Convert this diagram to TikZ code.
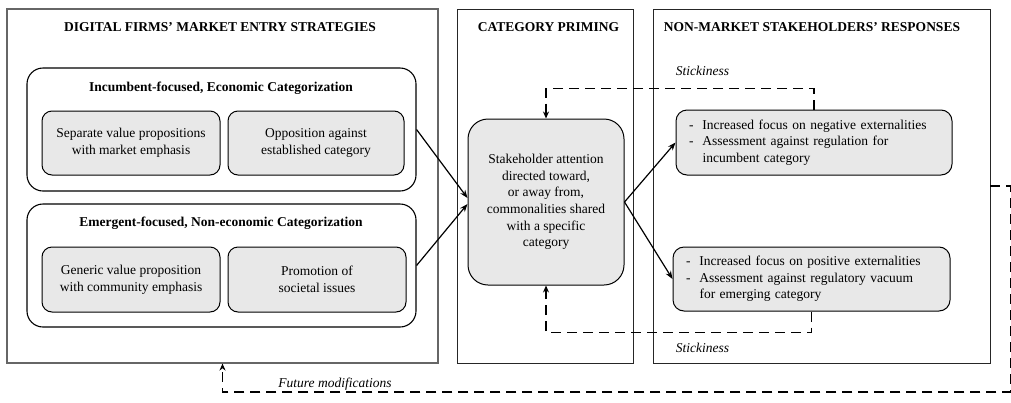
\documentclass[tikz,border=0pt]{standalone}
\usepackage{fontspec}
\setmainfont{Liberation Serif}
\usetikzlibrary{arrows.meta}
\definecolor{boxfill}{RGB}{232,232,232}
\newcommand{\basefont}{\fontsize{13.5}{16.6}\selectfont\rmfamily}
\begin{document}
\begin{tikzpicture}[x=1pt,y=-1pt,
  every node/.style={font=\basefont, inner sep=0pt},
  panel/.style={draw=black!85, line width=0.9pt, minimum width=#1, minimum height=354pt},
  group/.style={draw=black, line width=1.1pt, rounded corners=16pt, minimum width=389pt, minimum height=123pt},
  inner/.style={draw=black, line width=1pt, fill=boxfill, rounded corners=10pt, minimum width=#1, minimum height=64pt, align=center},
  resp/.style={draw=black, line width=1pt, fill=boxfill, rounded corners=11pt, minimum width=#1, minimum height=64pt, text width=#1-26pt, inner xsep=13pt, align=left},
  title/.style={font=\basefont\bfseries},
  note/.style={font=\basefont\itshape},
  solidarrow/.style={line width=1.2pt, -{Stealth[length=8pt,width=6pt]}},
  dashline/.style={line width=1.6pt, dash pattern=on 10pt off 6pt, -{Stealth[length=7pt,width=6pt]}}
]
\useasboundingbox (0,0) rectangle (1011,402);

% panels
\node[panel=431pt, draw=black!60, line width=1.1pt] (p1) at (222.5,186) {};
\node[panel=176pt] (p2) at (545,186) {};
\node[panel=337pt] (p3) at (821.5,186) {};

\node[title] (t1) at (220,27) {DIGITAL FIRMS’ MARKET ENTRY STRATEGIES};
\node[title] (t2) at (548.5,27) {CATEGORY PRIMING};
\node[title] (t3) at (812,27) {NON-MARKET STAKEHOLDERS’ RESPONSES};

% groups
\node[group] (g1) at (221.5,129.5) {};
\node[title] (g1t) at (221,88) {Incumbent-focused, Economic Categorization};
\node[inner=178pt] (a) at (131,143) {Separate value propositions\\with market emphasis};
\node[inner=176pt] (b) at (316,143) {Opposition against\\established category};

\node[group] (g2) at (221.5,265.5) {};
\node[title] (g2t) at (221,223) {Emergent-focused, Non-economic Categorization};
\node[inner=178pt, minimum height=65pt] (cc) at (131,279.5) {Generic value proposition\\with community emphasis};
\node[inner=178pt, minimum height=65pt] (d) at (317,279.5) {Promotion of\\societal issues};

% central
\node[draw=black, line width=1pt, fill=boxfill, rounded corners=20pt, minimum width=156pt, minimum height=166pt, align=center] (c) at (546,202)
  {Stakeholder attention\\directed toward,\\or away from,\\commonalities shared\\with a specific\\category};

% responses
\node[resp=276pt, minimum height=65pt] (r1) at (814,142.5)
  {\begin{tabular}{@{}l@{\hspace{9pt}}l@{}}-&Increased focus on negative externalities\\-&Assessment against regulation for\\&incumbent category\end{tabular}};
\node[resp=277pt] (r2) at (811.5,279)
  {\begin{tabular}{@{}l@{\hspace{9pt}}l@{}}-&Increased focus on positive externalities\\-&Assessment against regulatory vacuum\\&for emerging category\end{tabular}};

\node[note] (s1) at (702.5,71) {Stickiness};
\node[note] (s2) at (702.5,348) {Stickiness};
\node[note] (fm) at (335,384) {Future modifications};

% solid arrows
\draw[solidarrow] (g1.east) -- ([yshift=4pt]c.west);
\draw[solidarrow] (g2.east) -- ([yshift=-2pt]c.west);
\draw[solidarrow] (c.east) -- (r1.west);
\draw[solidarrow] (c.east) -- (r2.west);

% dashed feedback
\draw[dashline] (r1.north) -- ++(0,-21) -| (c.north);
\draw[dashline] (r2.south) -- ++(0,21) -| (c.south);
\draw[dashline] (p3.east) -- ++(20,0) -- ++(0,206) -| (p1.south);
\end{tikzpicture}
\end{document}
